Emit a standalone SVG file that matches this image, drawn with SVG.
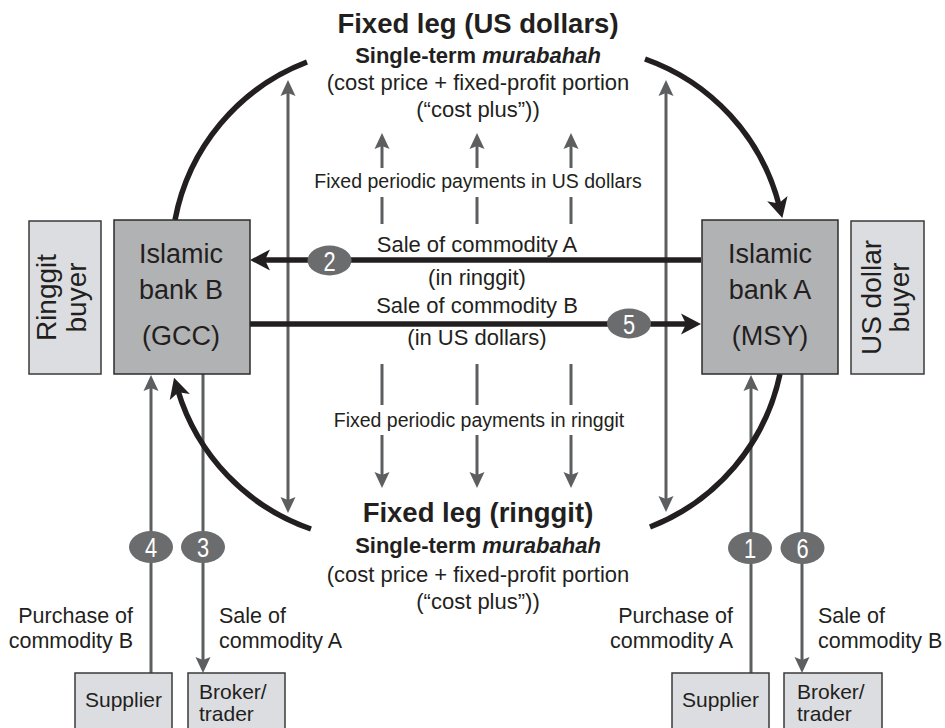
<svg xmlns="http://www.w3.org/2000/svg" width="945" height="728" viewBox="0 0 945 728">
  <style>
    text { font-family: "Liberation Sans", Arial, Helvetica, sans-serif; fill: #231f20; }
    .bank { fill: #b1b2b4; stroke: #2b2b2b; stroke-width: 1.5; }
    .light { fill: #dcdde0; stroke: #3a3a3a; stroke-width: 1.5; }
    .bankTxt { font-size: 27px; text-anchor: middle; }
    .buyerTxt { font-size: 28px; text-anchor: middle; }
    .smallBox { font-size: 21px; }
    .title { font-size: 27.5px; font-weight: bold; text-anchor: middle; }
    .sub { font-size: 22px; font-weight: bold; text-anchor: middle; }
    .body { font-size: 22px; text-anchor: middle; }
    .pay { font-size: 19.5px; text-anchor: middle; }
    .lbl { font-size: 21.5px; }
    .thick { fill: none; stroke: #231f20; stroke-width: 5.5; }
    .thin { fill: none; stroke: #5d5e60; stroke-width: 3; }
    .badge ellipse { fill: #6b6c6e; }
    .badge text { fill: #ffffff; font-size: 28px; text-anchor: middle; }
  </style>
  <defs>
    <marker id="headBlack" markerUnits="userSpaceOnUse" markerWidth="22" markerHeight="22" viewBox="0 -11 22 22" refX="7" refY="0" orient="auto-start-reverse">
      <path d="M0,-10.5 L20,0 L0,10.5 L5,0 Z" fill="#231f20"/>
    </marker>
    <marker id="headGray" markerUnits="userSpaceOnUse" markerWidth="17" markerHeight="17" viewBox="0 -8.5 17 17" refX="4" refY="0" orient="auto-start-reverse">
      <path d="M0,-7.5 L16,0 L0,7.5 L3,0 Z" fill="#5d5e60"/>
    </marker>
  </defs>

  <rect width="945" height="728" fill="#ffffff"/>

  <!-- connectors -->
  <g id="connectors">
    <!-- long two-way verticals -->
    <path class="thin" d="M288,92 L288,501" marker-start="url(#headGray)" marker-end="url(#headGray)"/>
    <path class="thin" d="M666,92 L666,500" marker-start="url(#headGray)" marker-end="url(#headGray)"/>
    <!-- fixed periodic payments in US dollars (upward) -->
    <path class="thin" d="M382,168 L382,145" marker-end="url(#headGray)"/>
    <path class="thin" d="M477,168 L477,145" marker-end="url(#headGray)"/>
    <path class="thin" d="M571,168 L571,145" marker-end="url(#headGray)"/>
    <path class="thin" d="M382,197 L382,224 M477,197 L477,224 M571,197 L571,224"/>
    <!-- fixed periodic payments in ringgit (downward) -->
    <path class="thin" d="M382,364 L382,405 M477,364 L477,405 M571,364 L571,405"/>
    <path class="thin" d="M382,435 L382,476" marker-end="url(#headGray)"/>
    <path class="thin" d="M477,435 L477,476" marker-end="url(#headGray)"/>
    <path class="thin" d="M571,435 L571,476" marker-end="url(#headGray)"/>
    <!-- commodity flows to suppliers and brokers -->
    <path class="thin" d="M151,673 L151,387" marker-end="url(#headGray)"/>
    <path class="thin" d="M203,374 L203,661" marker-end="url(#headGray)"/>
    <path class="thin" d="M751,673 L751,387" marker-end="url(#headGray)"/>
    <path class="thin" d="M802,374 L802,661" marker-end="url(#headGray)"/>
    <!-- sales between the banks -->
    <path class="thick" d="M701,260 L263,260" marker-end="url(#headBlack)"/>
    <path class="thick" d="M250,324 L688,324" marker-end="url(#headBlack)"/>
    <!-- fixed legs -->
    <path class="thick" d="M175,220 A211,211 0 0 1 307,62"/>
    <path class="thick" d="M645,59 A211,211 0 0 1 779.1,205.4" marker-end="url(#headBlack)"/>
    <path class="thick" d="M780,374 A211,211 0 0 1 650,527"/>
    <path class="thick" d="M311,529 A211,211 0 0 1 177.8,390.3" marker-end="url(#headBlack)"/>
  </g>

  <!-- nodes -->
  <g id="ringgit-buyer">
    <rect class="light" x="29" y="221" width="72" height="153"/>
    <g transform="translate(65,297.5) rotate(-90)">
      <text class="buyerTxt" x="0" y="-9">Ringgit</text>
      <text class="buyerTxt" x="0" y="21">buyer</text>
    </g>
  </g>
  <g id="bank-b">
    <rect class="bank" x="114" y="220" width="136" height="154"/>
    <text class="bankTxt" x="181" y="263">Islamic</text>
    <text class="bankTxt" x="181" y="299">bank B</text>
    <text class="bankTxt" x="181" y="345">(GCC)</text>
  </g>
  <g id="bank-a">
    <rect class="bank" x="702" y="220" width="136" height="154"/>
    <text class="bankTxt" x="770" y="263">Islamic</text>
    <text class="bankTxt" x="770" y="299">bank A</text>
    <text class="bankTxt" x="770" y="345">(MSY)</text>
  </g>
  <g id="usd-buyer">
    <rect class="light" x="851" y="221" width="73" height="153"/>
    <g transform="translate(887.5,297.5) rotate(-90)">
      <text class="buyerTxt" x="0" y="-7">US dollar</text>
      <text class="buyerTxt" x="0" y="21">buyer</text>
    </g>
  </g>
  <g id="supplier-left">
    <rect class="light" x="75" y="673" width="97" height="70"/>
    <text class="smallBox" x="123.5" y="707" text-anchor="middle">Supplier</text>
  </g>
  <g id="broker-left">
    <rect class="light" x="188" y="673" width="97" height="70"/>
    <text class="smallBox" x="199" y="699">Broker/</text>
    <text class="smallBox" x="199" y="721">trader</text>
  </g>
  <g id="supplier-right">
    <rect class="light" x="672" y="673" width="97" height="70"/>
    <text class="smallBox" x="720.5" y="707" text-anchor="middle">Supplier</text>
  </g>
  <g id="broker-right">
    <rect class="light" x="784" y="673" width="98" height="70"/>
    <text class="smallBox" x="797" y="699">Broker/</text>
    <text class="smallBox" x="797" y="721">trader</text>
  </g>

  <!-- step badges (digits set narrow) -->
  <g id="badges" class="badge">
    <ellipse cx="329.5" cy="260.5" rx="22" ry="15"/>
    <text transform="translate(329.5,270.5) scale(0.78,1)">2</text>
    <ellipse cx="629" cy="323.5" rx="22" ry="15"/>
    <text transform="translate(629,333.5) scale(0.78,1)">5</text>
    <ellipse cx="151" cy="547" rx="22" ry="16"/>
    <text transform="translate(151,557) scale(0.78,1)">4</text>
    <ellipse cx="203" cy="547" rx="22" ry="16"/>
    <text transform="translate(203,557) scale(0.78,1)">3</text>
    <ellipse cx="750" cy="548" rx="22" ry="16"/>
    <text transform="translate(750,558) scale(0.78,1)">1</text>
    <ellipse cx="802.5" cy="548" rx="22" ry="16"/>
    <text transform="translate(802.5,558) scale(0.78,1)">6</text>
  </g>

  <!-- fixed leg (US dollars) -->
  <g id="label-usd-leg">
    <text class="title" x="478" y="33">Fixed leg (US dollars)</text>
    <text class="sub" x="478" y="63">Single-term <tspan font-style="italic">murabahah</tspan></text>
    <text class="body" x="478" y="90">(cost price + fixed-profit portion</text>
    <text class="body" x="478" y="117">(“cost plus”))</text>
    <text class="pay" x="478" y="188">Fixed periodic payments in US dollars</text>
  </g>

  <!-- sale labels -->
  <g id="label-sales">
    <text class="body" x="477" y="252">Sale of commodity A</text>
    <text class="body" x="477" y="285">(in ringgit)</text>
    <text class="body" x="477" y="313">Sale of commodity B</text>
    <text class="body" x="477" y="345">(in US dollars)</text>
  </g>

  <!-- fixed leg (ringgit) -->
  <g id="label-ringgit-leg">
    <text class="pay" x="479" y="427">Fixed periodic payments in ringgit</text>
    <text class="title" x="478" y="522">Fixed leg (ringgit)</text>
    <text class="sub" x="478" y="553">Single-term <tspan font-style="italic">murabahah</tspan></text>
    <text class="body" x="478" y="582">(cost price + fixed-profit portion</text>
    <text class="body" x="478" y="609">(“cost plus”))</text>
  </g>

  <!-- commodity flow labels -->
  <g id="label-flows">
    <text class="lbl" x="133" y="623" text-anchor="end">Purchase of</text>
    <text class="lbl" x="133" y="648" text-anchor="end">commodity B</text>
    <text class="lbl" x="219" y="623">Sale of</text>
    <text class="lbl" x="219" y="648">commodity A</text>
    <text class="lbl" x="733" y="623" text-anchor="end">Purchase of</text>
    <text class="lbl" x="733" y="648" text-anchor="end">commodity A</text>
    <text class="lbl" x="818" y="623">Sale of</text>
    <text class="lbl" x="818" y="648">commodity B</text>
  </g>
</svg>
